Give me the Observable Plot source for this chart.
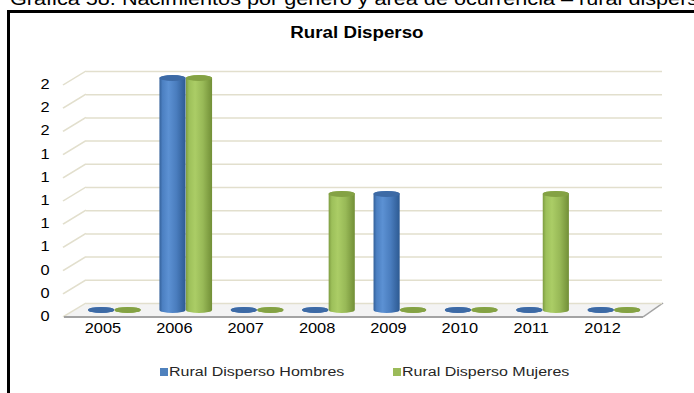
<!DOCTYPE html>
<html><head><meta charset="utf-8">
<script src="https://cdn.jsdelivr.net/npm/d3@7"></script>
<script src="https://cdn.jsdelivr.net/npm/@observablehq/plot@0.6"></script>
<style>
html,body{margin:0;padding:0;background:#fff;width:694px;height:393px;overflow:hidden;font-family:Arial,"Liberation Sans",sans-serif;}
#chart{position:absolute;left:0;top:0;width:694px;}
#chart svg{transform:scaleX(1.17);transform-origin:0 0;}
#caption{position:absolute;left:10px;top:-10px;font-size:18.5px;line-height:18px;white-space:nowrap;transform:scaleX(1.17);transform-origin:0 0;color:#000;}
#frame{position:absolute;left:7px;top:10px;width:800px;height:500px;border:3px solid #000;}
#title{position:absolute;left:0;top:24px;width:714px;text-align:center;line-height:18px;}
#title span{display:inline-block;font-weight:bold;font-size:16px;transform:scaleX(1.17);color:#000;}
.leg{position:absolute;top:364px;height:16px;line-height:16px;white-space:nowrap;}
.leg i{position:absolute;left:0;top:4px;width:8px;height:8px;}
.leg span{position:absolute;left:9px;top:0;font-size:13.7px;color:#262626;transform:scaleX(1.17);transform-origin:0 50%;}
</style>
</head><body>
<svg width="0" height="0" style="position:absolute">
  <defs>
    <linearGradient id="gradH" x1="0" x2="1" y1="0" y2="0">
      <stop offset="0" stop-color="#34619a"/>
      <stop offset="0.12" stop-color="#4c80c2"/>
      <stop offset="0.35" stop-color="#5c91d3"/>
      <stop offset="0.65" stop-color="#4a7dbe"/>
      <stop offset="1" stop-color="#2d5a92"/>
    </linearGradient>
    <linearGradient id="gradM" x1="0" x2="1" y1="0" y2="0">
      <stop offset="0" stop-color="#7e9c41"/>
      <stop offset="0.12" stop-color="#9dc05a"/>
      <stop offset="0.35" stop-color="#abcd66"/>
      <stop offset="0.65" stop-color="#98b957"/>
      <stop offset="1" stop-color="#728f37"/>
    </linearGradient>
  </defs>
</svg>
<div id="chart"></div>
<div id="caption">Gráfica 58. Nacimientos por género y área de ocurrencia – rural disperso</div>
<div id="frame"></div>
<div id="title"><span>Rural Disperso</span></div>
<div id="legend"></div>
<script>
// ---- data ----
const years = ["2005","2006","2007","2008","2009","2010","2011","2012"];
const series = ["Rural Disperso Hombres","Rural Disperso Mujeres"];
const hombres = [0,2,0,0,1,0,0,0];
const mujeres = [0,2,0,1,0,0,1,0];
const yTicks = [0,0.2,0.4,0.6,0.8,1,1.2,1.4,1.6,1.8,2];
const yTickLabels = ["0","0","0","1","1","1","1","1","2","2","2"];
const seriesColors = ["#4f81bd","#9bbb59"];

// ---- layout ----
const S = 1.17;               // horizontal stretch of the original picture
const W = 694 / S, H = 345;
const mL = 64 / S, mR = W - 640 / S, mT = 78, mB = H - 310;
const pIn = 0.264, pOut = 0.132;
const step = (W - mL - mR) / years.length;
const half = step * (1 - pIn) / 2;
const depthX = 22 / S, depthY = 7, shift = 12 / S;
const gridColor = "#e2dfcd";

const hRows = years.map((year, i) => ({year, value: hombres[i]}));
const mRows = years.map((year, i) => ({year, value: mujeres[i]}));

const barOpts = (extra) => Object.assign({x: "year", insetTop: -3, insetBottom: -3, rx: half / 2, ry: 3, dx: shift}, extra);

const chart = Plot.plot({
  width: W, height: H,
  marginLeft: mL, marginRight: mR, marginTop: mT, marginBottom: mB,
  x: {type: "band", domain: years, paddingInner: pIn, paddingOuter: pOut, axis: null},
  y: {domain: [0, 2], axis: null},
  style: {fontFamily: "Arial, 'Liberation Sans', sans-serif", fontSize: "14px", background: "transparent", overflow: "visible", color: "#000"},
  marks: [
    Plot.ruleY(yTicks, {y: d => d, dx: depthX, dy: -depthY, stroke: gridColor, strokeWidth: 1.5}),
    Plot.text(yTicks, {y: d => d, text: (d, i) => yTickLabels[i], frameAnchor: "left", textAnchor: "end", dx: -15 / S, dy: 6, fill: "#000"}),
    Plot.text(years, {x: d => d, text: d => d, frameAnchor: "bottom", dy: 23, fill: "#000"}),
    Plot.barY(hRows, barOpts({y: "value", fill: "url(#gradH)", insetRight: half})),
    Plot.barY(hRows, barOpts({y1: "value", y2: "value", fill: "#3d6aa5", insetRight: half})),
    Plot.barY(mRows, barOpts({y: "value", fill: "url(#gradM)", insetLeft: half})),
    Plot.barY(mRows, barOpts({y1: "value", y2: "value", fill: "#84a244", insetLeft: half}))
  ]
});
document.getElementById("chart").appendChild(chart);

// ---- 3D floor and left wall, from the y scale ----
const ys = chart.scale("y");
const y0 = ys.apply(0);
const xl = mL, xr = W - mR + 3 / S;
const svg = d3.select(chart);
const g = svg.insert("g", "g").attr("aria-label", "floor");
g.append("polygon")
  .attr("points", [[xl, y0 + depthY], [xr, y0 + depthY], [xr + 20 / S, y0 - depthY], [xl + depthX, y0 - depthY]].map(p => p.join(",")).join(" "))
  .attr("fill", "#f3f3f3");
g.selectAll("line.wall").data(yTicks).join("line")
  .attr("x1", xl - 1 / S).attr("y1", d => ys.apply(d) + depthY)
  .attr("x2", xl + depthX).attr("y2", d => ys.apply(d) - depthY)
  .attr("stroke", gridColor).attr("stroke-width", 1.5);
g.append("line").attr("x1", xl).attr("y1", y0 + depthY).attr("x2", xr).attr("y2", y0 + depthY)
  .attr("stroke", "#a3a3a3").attr("stroke-width", 2);
g.append("line").attr("x1", xr).attr("y1", y0 + depthY).attr("x2", xr + 20 / S).attr("y2", y0 - depthY)
  .attr("stroke", "#a3a3a3").attr("stroke-width", 1.5);

// ---- legend ----
const legendLeft = [160, 393];
const legend = document.getElementById("legend");
series.forEach((s, i) => {
  const d = document.createElement("div");
  d.className = "leg";
  d.style.left = legendLeft[i] + "px";
  d.innerHTML = `<i style="background:${seriesColors[i]}"></i><span>${s}</span>`;
  legend.appendChild(d);
});
</script>
</body></html>
